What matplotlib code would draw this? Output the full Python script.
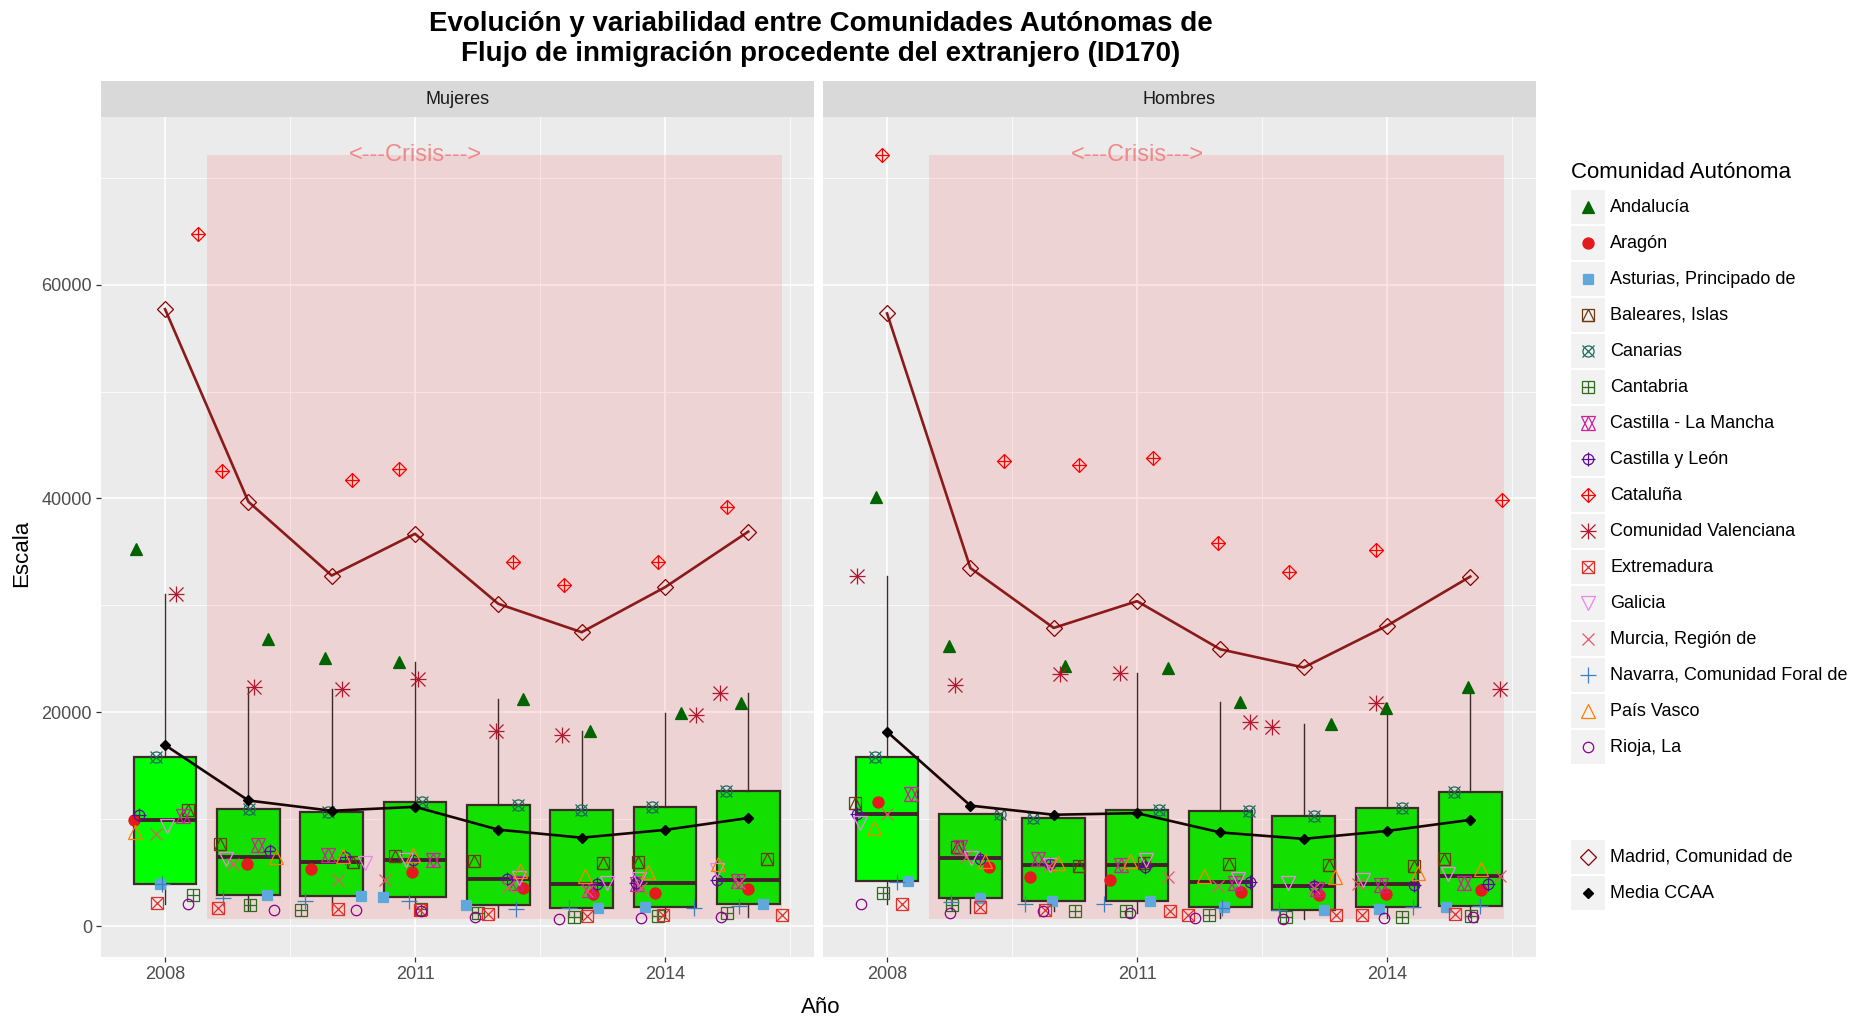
import numpy as np
import matplotlib.pyplot as plt
from matplotlib.patches import Rectangle

plt.rcParams['font.family'] = ['Liberation Sans', 'DejaVu Sans']

years = [2008, 2009, 2010, 2011, 2012, 2013, 2014, 2015]
sexes = ['Mujeres', 'Hombres']
ccaa = ['Andalucía', 'Aragón', 'Asturias, Principado de', 'Baleares, Islas', 'Canarias',
        'Cantabria', 'Castilla - La Mancha', 'Castilla y León', 'Cataluña',
        'Comunidad Valenciana', 'Extremadura', 'Galicia', 'Murcia, Región de',
        'Navarra, Comunidad Foral de', 'País Vasco', 'Rioja, La']

# --- Mujeres ---
andalucia_muj = [35250, 26900, 25100, 24700, 21250, 18300, 19900, 20900]
aragon_muj = [9900, 5850, 5350, 5100, 3600, 3000, 3100, 3500]
asturias_muj = [3950, 2900, 2800, 2750, 2000, 1700, 1800, 2100]
baleares_muj = [10900, 7650, 6000, 6600, 6150, 5900, 6000, 6300]
canarias_muj = [15800, 11000, 10700, 11650, 11300, 10900, 11150, 12650]
cantabria_muj = [2900, 2000, 1550, 1600, 1250, 900, 1000, 1200]
clm_muj = [10300, 7600, 6700, 6200, 4050, 3400, 4000, 4200]
cyl_muj = [10400, 7000, 6500, 6200, 4450, 4000, 4050, 4300]
cataluna_muj = [64750, 42600, 41700, 42750, 34100, 31900, 34100, 39200]
valenciana_muj = [31100, 22400, 22200, 23100, 18300, 17900, 19800, 21800]
extremadura_muj = [2200, 1700, 1600, 1550, 1150, 1000, 1050, 1100]
galicia_muj = [9400, 6300, 5900, 6200, 4500, 4050, 4400, 5300]
murcia_muj = [8600, 5800, 4300, 4300, 3650, 3300, 3600, 4050]
navarra_muj = [4000, 2600, 2350, 2400, 1650, 1700, 1700, 1900]
paisvasco_muj = [8850, 6500, 6550, 6700, 5150, 4700, 5100, 5800]
rioja_muj = [2100, 1500, 1500, 1400, 900, 700, 800, 900]
madrid_muj = [57700, 39700, 32800, 36700, 30150, 27500, 31700, 36900]

# --- Hombres ---
andalucia_hom = [40100, 26250, 24300, 24150, 21000, 18950, 20400, 22400]
aragon_hom = [11650, 5500, 4600, 4300, 3200, 2900, 3000, 3400]
asturias_hom = [4200, 2650, 2350, 2350, 1800, 1550, 1600, 1800]
baleares_hom = [11500, 7400, 5600, 5900, 5850, 5700, 5600, 6250]
canarias_hom = [15800, 10500, 10150, 10900, 10800, 10300, 11100, 12600]
cantabria_hom = [3100, 2000, 1400, 1450, 1100, 900, 900, 1000]
clm_hom = [12400, 7400, 6250, 5700, 4050, 3450, 3900, 4050]
cyl_hom = [10500, 6300, 5800, 5500, 4100, 3750, 3900, 3950]
cataluna_hom = [72100, 43500, 43100, 43800, 35800, 33100, 35200, 39900]
valenciana_hom = [32800, 22600, 23600, 23650, 19100, 18600, 20850, 22200]
extremadura_hom = [2100, 1800, 1500, 1450, 1100, 1100, 1100, 1150]
galicia_hom = [9700, 6400, 5700, 6200, 4450, 4050, 4300, 4850]
murcia_hom = [10500, 6450, 5600, 4600, 3750, 3600, 4000, 4700]
navarra_hom = [4150, 2300, 2100, 2100, 1700, 1550, 1800, 1900]
paisvasco_hom = [9200, 6100, 5950, 6100, 4700, 4600, 5000, 5400]
rioja_hom = [2100, 1200, 1450, 1250, 800, 700, 800, 900]
madrid_hom = [57300, 33500, 27900, 30400, 25900, 24200, 28100, 32700]

# horizontal jitter of the points, as seen in the chart (years)
andalucia_muj_dx = [-0.35, 0.24, -0.08, -0.19, 0.30, 0.10, 0.19, -0.09]
aragon_muj_dx = [-0.37, -0.02, -0.25, -0.04, 0.30, 0.14, -0.12, 0.00]
asturias_muj_dx = [-0.06, 0.22, 0.35, -0.38, -0.39, 0.20, -0.24, 0.18]
baleares_muj_dx = [0.27, -0.34, 0.26, -0.24, -0.29, 0.26, -0.32, 0.23]
canarias_muj_dx = [-0.11, 0.01, -0.04, 0.08, 0.24, -0.01, -0.15, -0.27]
cantabria_muj_dx = [0.34, 0.02, -0.37, 0.07, -0.24, -0.09, -0.08, -0.26]
clm_muj_dx = [0.22, 0.12, -0.04, 0.21, 0.21, 0.09, -0.34, -0.12]
cyl_muj_dx = [-0.31, 0.26, 0.16, -0.03, 0.11, 0.19, -0.35, -0.38]
cataluna_muj_dx = [0.40, -0.32, 0.24, -0.19, 0.18, -0.21, -0.08, -0.26]
valenciana_muj_dx = [0.13, 0.07, 0.12, 0.04, -0.03, -0.23, 0.37, -0.34]
extremadura_muj_dx = [-0.10, -0.36, 0.07, 0.06, -0.12, 0.07, -0.02, 0.40]
galicia_muj_dx = [0.02, -0.27, 0.40, -0.11, 0.25, 0.31, -0.31, -0.38]
murcia_muj_dx = [-0.11, -0.18, 0.07, -0.36, 0.12, 0.07, -0.29, -0.11]
navarra_muj_dx = [-0.04, -0.31, -0.32, -0.07, 0.21, -0.15, 0.35, -0.11]
paisvasco_muj_dx = [-0.36, 0.33, 0.13, -0.03, 0.26, 0.04, -0.20, -0.36]
rioja_muj_dx = [0.28, 0.31, 0.29, 0.07, -0.28, -0.27, -0.29, -0.33]

andalucia_hom_dx = [-0.13, -0.26, 0.13, 0.37, 0.24, 0.33, -0.01, -0.03]
aragon_hom_dx = [-0.11, 0.22, -0.28, -0.32, 0.25, 0.19, -0.01, 0.13]
asturias_hom_dx = [0.25, 0.11, -0.02, 0.15, 0.05, 0.24, -0.10, -0.29]
baleares_hom_dx = [-0.38, -0.16, 0.30, 0.08, 0.10, 0.30, 0.32, -0.31]
canarias_hom_dx = [-0.14, 0.36, -0.25, 0.26, 0.34, 0.13, 0.18, -0.19]
cantabria_hom_dx = [-0.05, -0.22, 0.25, -0.13, -0.13, -0.21, 0.18, 0.01]
clm_hom_dx = [0.29, -0.12, -0.19, -0.19, 0.18, 0.16, -0.07, -0.07]
cyl_hom_dx = [-0.36, 0.11, -0.04, 0.09, 0.36, 0.12, 0.32, 0.21]
cataluna_hom_dx = [-0.06, 0.40, 0.30, 0.19, -0.03, -0.17, -0.13, 0.38]
valenciana_hom_dx = [-0.36, -0.19, 0.07, -0.20, 0.36, -0.38, -0.13, 0.36]
extremadura_hom_dx = [0.18, 0.11, -0.11, 0.40, -0.39, 0.39, -0.30, -0.18]
galicia_hom_dx = [-0.32, 0.01, -0.04, 0.11, 0.21, -0.19, -0.29, -0.27]
murcia_hom_dx = [0.00, -0.05, -0.06, 0.37, -0.03, 0.13, -0.35, 0.36]
navarra_hom_dx = [0.12, -0.23, -0.34, -0.40, 0.02, -0.30, 0.31, 0.12]
paisvasco_hom_dx = [-0.16, 0.17, 0.05, -0.09, -0.19, 0.38, 0.37, 0.13]
rioja_hom_dx = [-0.31, -0.24, -0.13, -0.09, -0.30, -0.25, -0.03, 0.03]

values = {
    'Mujeres': [andalucia_muj, aragon_muj, asturias_muj, baleares_muj, canarias_muj,
                cantabria_muj, clm_muj, cyl_muj, cataluna_muj, valenciana_muj,
                extremadura_muj, galicia_muj, murcia_muj, navarra_muj, paisvasco_muj,
                rioja_muj],
    'Hombres': [andalucia_hom, aragon_hom, asturias_hom, baleares_hom, canarias_hom,
                cantabria_hom, clm_hom, cyl_hom, cataluna_hom, valenciana_hom,
                extremadura_hom, galicia_hom, murcia_hom, navarra_hom, paisvasco_hom,
                rioja_hom],
}
jitter = {
    'Mujeres': [andalucia_muj_dx, aragon_muj_dx, asturias_muj_dx, baleares_muj_dx,
                canarias_muj_dx, cantabria_muj_dx, clm_muj_dx, cyl_muj_dx,
                cataluna_muj_dx, valenciana_muj_dx, extremadura_muj_dx, galicia_muj_dx,
                murcia_muj_dx, navarra_muj_dx, paisvasco_muj_dx, rioja_muj_dx],
    'Hombres': [andalucia_hom_dx, aragon_hom_dx, asturias_hom_dx, baleares_hom_dx,
                canarias_hom_dx, cantabria_hom_dx, clm_hom_dx, cyl_hom_dx,
                cataluna_hom_dx, valenciana_hom_dx, extremadura_hom_dx, galicia_hom_dx,
                murcia_hom_dx, navarra_hom_dx, paisvasco_hom_dx, rioja_hom_dx],
}
madrid = {'Mujeres': madrid_muj, 'Hombres': madrid_hom}

colors = ['#006400', '#E41A1C', '#5FA8DC', '#6B3A0F', '#1A6B5C', '#2F6B1F', '#D0209A',
          '#5B0A9E', '#FF0000', '#B0182E', '#E0302A', '#EE82EE', '#E9546B', '#3C7FC0',
          '#FF7F00', '#8B008B']
# each shape is a stack of (marker, size, filled) layers, like R pch 17,16,15,14,13...
shapes = [
    [('^', 8.5, True)],
    [('o', 8, True)],
    [('s', 7.5, True)],
    [('s', 8, False), ('^', 8, False)],
    [('o', 8, False), ('x', 8, False)],
    [('s', 8, False), ('+', 8, False)],
    [('^', 10, False), ('v', 10, False)],
    [('o', 7.5, False), ('+', 10, False)],
    [('D', 7.5, False), ('+', 10.5, False)],
    [('+', 11, False), ('x', 10, False)],
    [('s', 8, False), ('x', 8, False)],
    [('v', 10.5, False)],
    [('x', 9, False)],
    [('+', 11, False)],
    [('^', 10.5, False)],
    [('o', 7.5, False)],
]
madrid_color = '#8B0000'
madrid_line = '#8B1A1A'
mean_color = '#1A0505'
box_edge = '#3F2A2A'
crisis_start, crisis_end = 2008.5, 2015.4


def draw_shape(ax, x, y, layers, color, zorder=3):
    for m, s, filled in layers:
        ax.plot(x, y, linestyle='none', marker=m, markersize=s,
                markerfacecolor=color if filled else 'none',
                markeredgecolor=color, markeredgewidth=0.9, zorder=zorder)


W, H = 1870, 1022
fig = plt.figure(figsize=(W / 100, H / 100), dpi=100)

all_vals = [v for s in sexes for row in values[s] for v in row] + madrid_muj + madrid_hom
ymin_d, ymax_d = min(all_vals), max(all_vals)
yr = ymax_d - ymin_d
ylim = (ymin_d - 0.05 * yr, ymax_d + 0.05 * yr)
all_x = [y + d for s in sexes for row in jitter[s] for y, d in zip(years, row)]
xlo, xhi = min(all_x + [years[0] - 0.375]), max(all_x + [crisis_end])
xr = xhi - xlo
xlim = (xlo - 0.05 * xr, xhi + 0.05 * xr)

panel_left = [101, 823]
panel_w = 713
panel_top, panel_bot = 117, 957
strip_top = 81

for i, sex in enumerate(sexes):
    ax = fig.add_axes([panel_left[i] / W, 1 - panel_bot / H, panel_w / W,
                       (panel_bot - panel_top) / H])
    ax.set_facecolor('#EBEBEB')
    for sp in ax.spines.values():
        sp.set_visible(False)
    ax.set_xlim(xlim)
    ax.set_ylim(ylim)
    ax.set_xticks([2008, 2011, 2014])
    ax.set_xticks([2009.5, 2012.5, 2015.5], minor=True)
    ax.set_yticks([0, 20000, 40000, 60000])
    ax.set_yticks([10000, 30000, 50000, 70000], minor=True)
    ax.grid(which='major', color='white', linewidth=1.1)
    ax.grid(which='minor', color='white', linewidth=0.55)
    ax.set_axisbelow(True)
    ax.tick_params(which='major', length=3.5, width=0.9, color='#333333',
                   labelsize=13, labelcolor='#4D4D4D', pad=3)
    ax.tick_params(which='minor', length=0)
    if i == 1:
        ax.tick_params(axis='y', which='both', left=False, labelleft=False)

    ax.add_patch(Rectangle((crisis_start, ymin_d), crisis_end - crisis_start, yr,
                           facecolor='red', alpha=0.1, edgecolor='none', zorder=1))
    ax.text(2011, ymax_d, '<---Crisis--->', color='#F08080', fontsize=17,
            ha='center', va='center', alpha=0.9, zorder=1.5)

    # boxplots over all communities + Madrid
    per_year = [[row[j] for row in values[sex]] + [madrid[sex][j]] for j in range(len(years))]
    bp = ax.boxplot(per_year, positions=years, widths=0.75, patch_artist=True,
                    showfliers=False, showcaps=False, whis=1.5, manage_ticks=False,
                    boxprops=dict(edgecolor=box_edge, linewidth=1.6),
                    medianprops=dict(color='#44202C', linewidth=2.8),
                    whiskerprops=dict(color=box_edge, linewidth=1.0), zorder=2)
    for j, patch in enumerate(bp['boxes']):
        patch.set_facecolor('#00FF00' if years[j] < crisis_start else '#14E000')

    for k, name in enumerate(ccaa):
        xs = [y + d for y, d in zip(years, jitter[sex][k])]
        draw_shape(ax, xs, values[sex][k], shapes[k], colors[k])

    means = [np.mean(v) for v in per_year]
    ax.plot(years, madrid[sex], color=madrid_line, linewidth=1.9, zorder=4)
    ax.plot(years, madrid[sex], linestyle='none', marker='D', markersize=8,
            markerfacecolor='none', markeredgecolor=madrid_color, markeredgewidth=0.9,
            zorder=4)
    ax.plot(years, means, color=mean_color, linewidth=1.9, marker='D', markersize=5.5,
            markerfacecolor='black', markeredgecolor='black', zorder=5)

    # facet strip
    sax = fig.add_axes([panel_left[i] / W, 1 - panel_top / H, panel_w / W,
                        (panel_top - strip_top) / H])
    sax.set_facecolor('#D9D9D9')
    sax.set_xticks([])
    sax.set_yticks([])
    for sp in sax.spines.values():
        sp.set_visible(False)
    sax.text(0.5, 0.5, sex, ha='center', va='center', fontsize=13, color='#1A1A1A',
             transform=sax.transAxes)

fig.text(821 / W, 1 - 24 / H, 'Evolución y variabilidad entre Comunidades Autónomas de',
         ha='center', va='center', fontsize=20, fontweight='bold')
fig.text(821 / W, 1 - 54 / H, 'Flujo de inmigración procedente del extranjero (ID170)',
         ha='center', va='center', fontsize=20, fontweight='bold')
fig.text(821 / W, 1 - 1007 / H, 'Año', ha='center', va='center', fontsize=16)
fig.text(22 / W, 1 - 553 / H, 'Escala', ha='center', va='center', fontsize=16,
         rotation=90)

# legend, drawn in pixel coordinates
lax = fig.add_axes([0, 0, 1, 1])
lax.set_xlim(0, W)
lax.set_ylim(H, 0)
lax.axis('off')
lax.text(1571, 173, 'Comunidad Autónoma', fontsize=16, ha='left', va='center')
key_x, key_w = 1571, 34
for k, name in enumerate(ccaa):
    top = 190 + 36 * k
    lax.add_patch(Rectangle((key_x, top), key_w, key_w, facecolor='#F2F2F2',
                            edgecolor='none'))
    draw_shape(lax, [key_x + key_w / 2], [top + key_w / 2], shapes[k], colors[k])
    lax.text(1610, top + key_w / 2, name, fontsize=13, ha='left', va='center')

extra = [('Madrid, Comunidad de', 840), ('Media CCAA', 876)]
for name, top in extra:
    lax.add_patch(Rectangle((key_x, top), key_w, key_w, facecolor='#F2F2F2',
                            edgecolor='none'))
    lax.text(1610, top + key_w / 2, name, fontsize=13, ha='left', va='center')
lax.plot([key_x + key_w / 2], [840 + key_w / 2], marker='D', markersize=8,
         markerfacecolor='none', markeredgecolor=madrid_color, markeredgewidth=0.9)
lax.plot([key_x + key_w / 2], [876 + key_w / 2], marker='D', markersize=5.5,
         markerfacecolor='black', markeredgecolor='black')

fig.savefig('out.png', dpi=100, facecolor='white')
